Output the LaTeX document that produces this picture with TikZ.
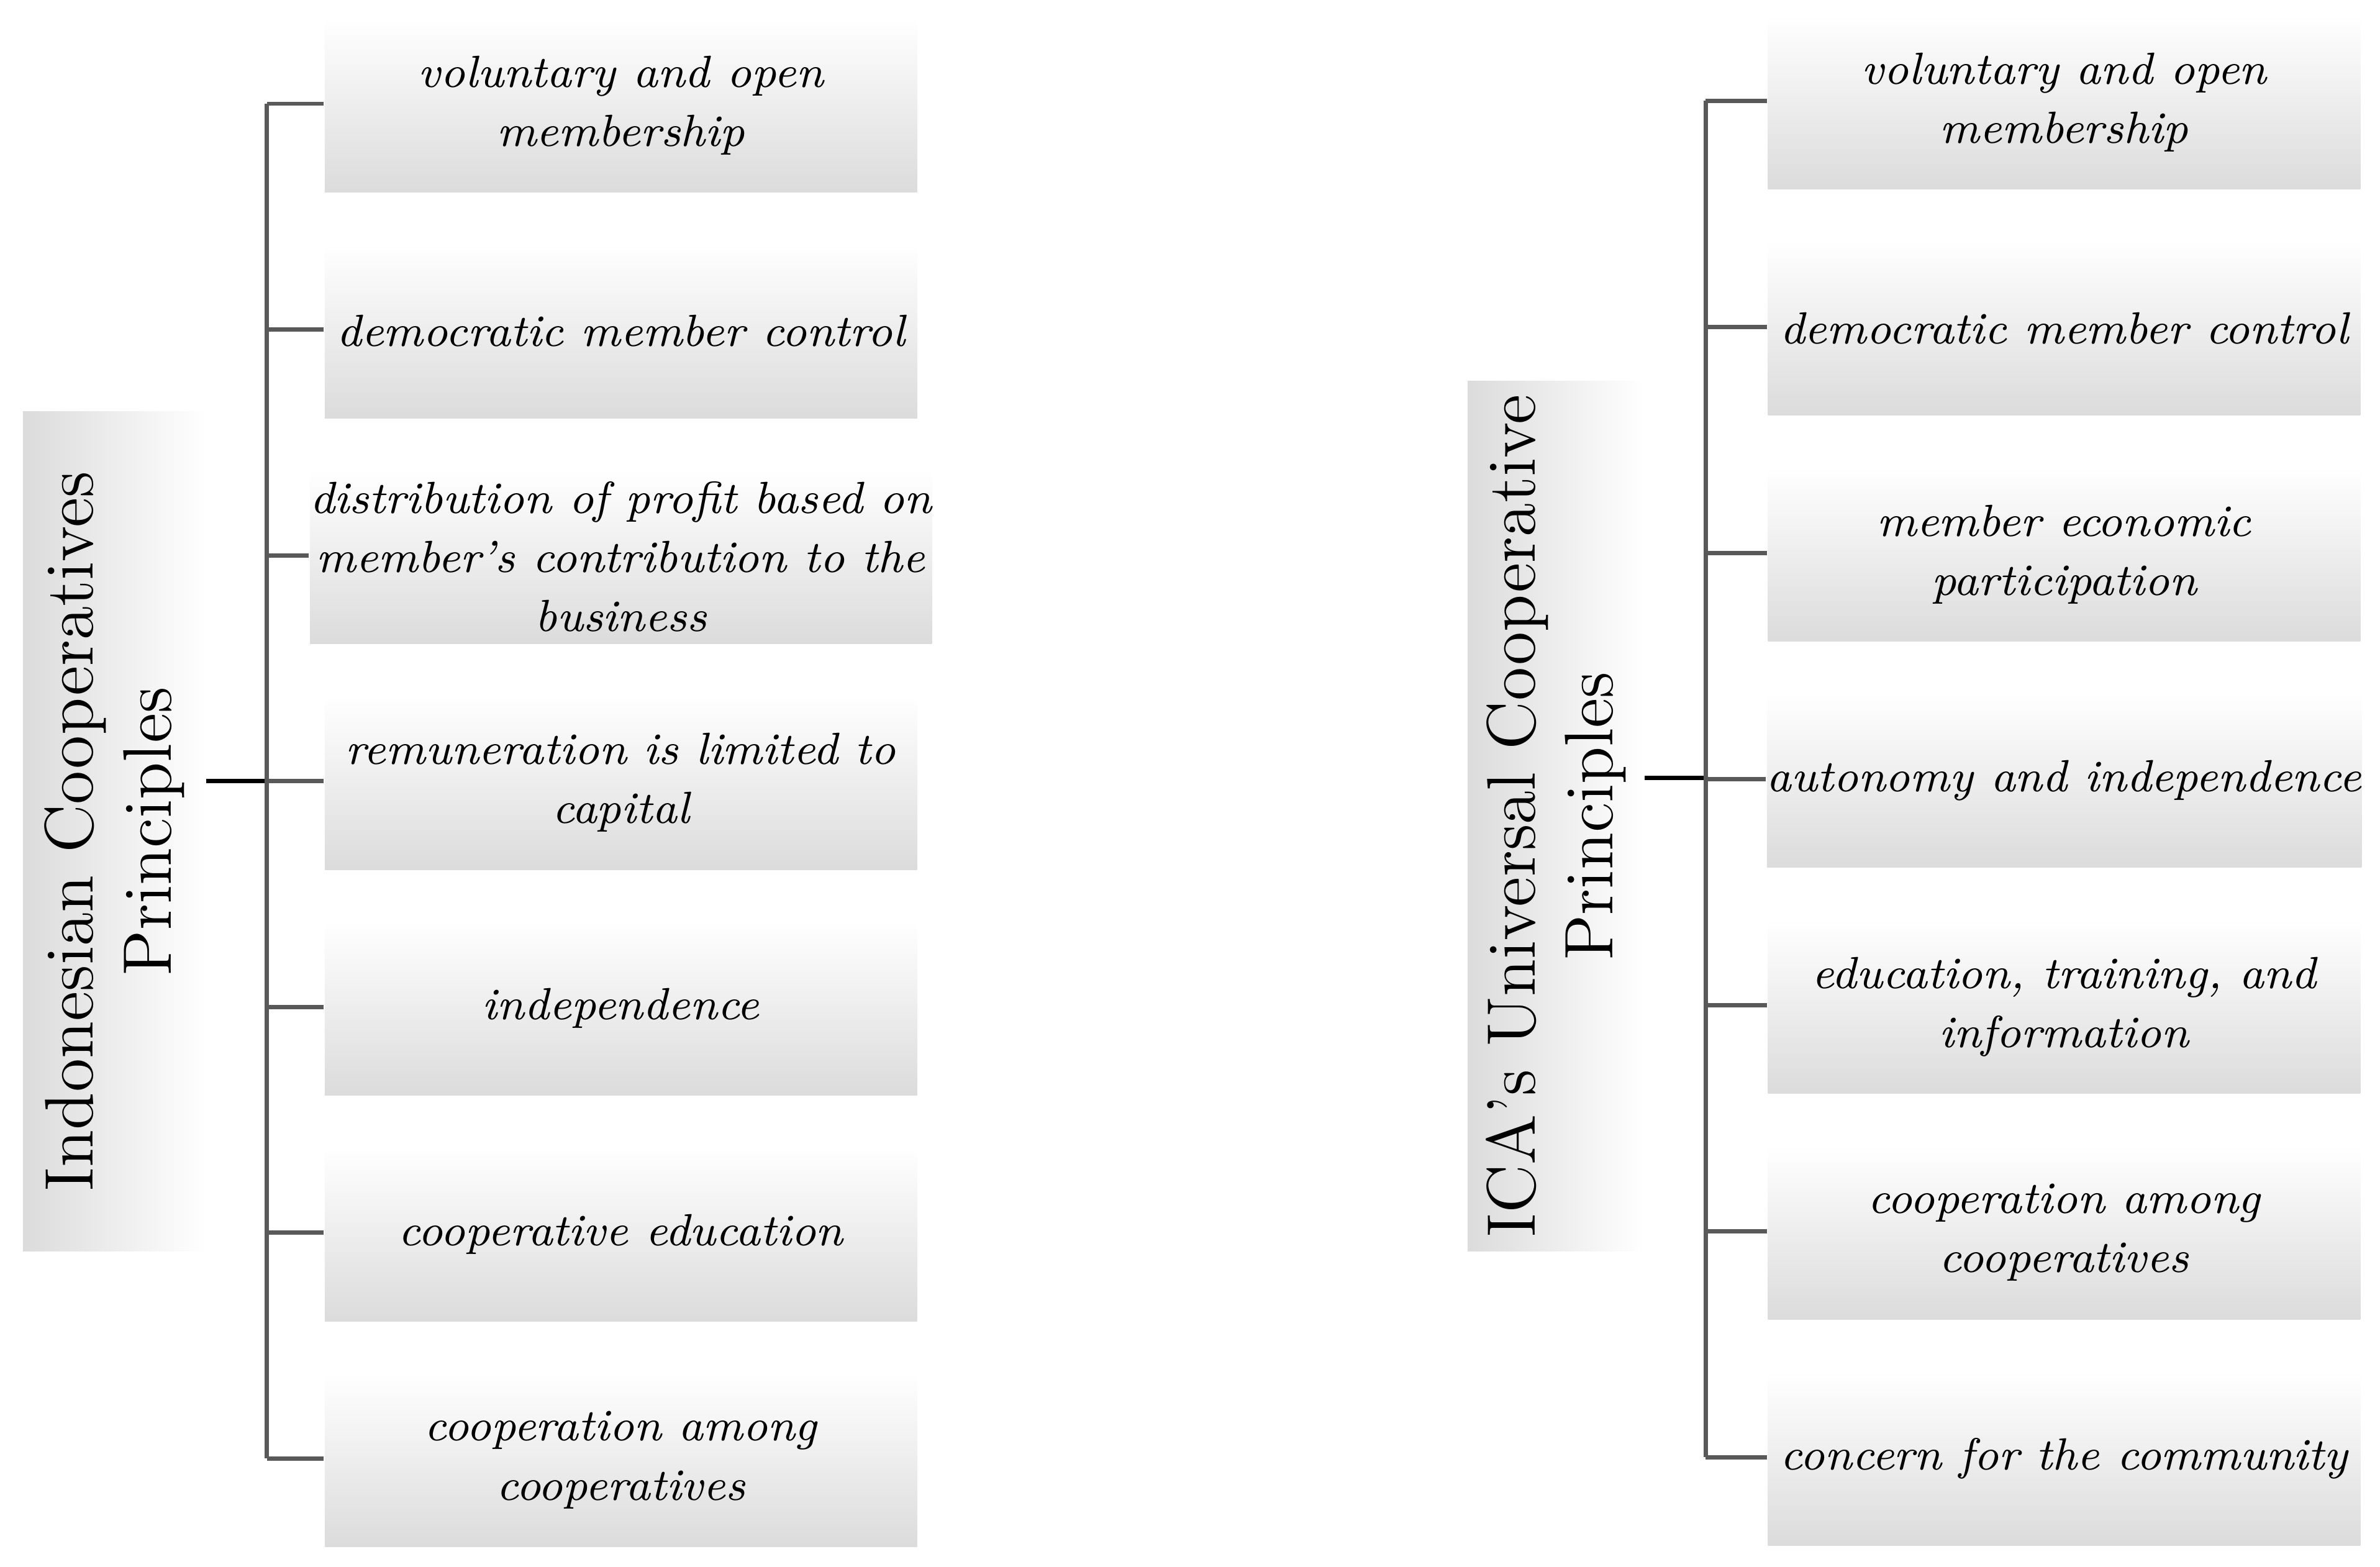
\documentclass[tikz,border=0pt]{standalone}
\usetikzlibrary{calc}
\begin{document}
\begin{tikzpicture}[x=0.01cm,y=-0.01cm,
  item/.style={top color=white, bottom color=gray!28, draw=none, minimum width=3.88cm, minimum height=1.14cm,
    align=center, font=\itshape\fontsize{8.4}{11}\selectfont, inner sep=0pt},
  title/.style={left color=gray!28, right color=white, draw=none, rotate=90, align=center,
    font=\fontsize{12.8}{14.5}\selectfont, inner sep=0pt},
  branch/.style={gray!70!black, thick}]
  \useasboundingbox (0,0) rectangle (1560,1027);

  % left tree
  \node[title, minimum width=5.5cm, minimum height=1.2cm] (lt) at (75,545) {Indonesian Cooperatives\\Principles};
  \coordinate (lspine) at (175,512);
  \draw[thick] (135,512) -- (lspine);
  \foreach \t [count=\i] in {{voluntary and open\\membership},
      {democratic member control},
      {distribution of profit based on\\member's contribution to the\\business},
      {remuneration is limited to\\capital},
      {independence},
      {cooperative education},
      {cooperation among\\cooperatives}}{
    \pgfmathsetmacro\yy{68+148*(\i-1)}
    \node[item] (l\i) at (407,\yy+1) {\t};
    \draw[branch] (175,\yy) -- (l\i.west |- 0,\yy);
  }
  \draw[branch] (175,68) -- (175,956);

  % right tree
  \node[title, minimum width=5.7cm, minimum height=1.16cm] (rt) at (1020,535) {ICA's Universal Cooperative\\Principles};
  \draw[thick] (1078,510) -- (1118,510);
  \foreach \t [count=\i] in {{voluntary and open\\membership},
      {democratic member control},
      {member economic\\participation},
      {autonomy and independence},
      {education, training, and\\information},
      {cooperation among\\cooperatives},
      {concern for the community}}{
    \pgfmathsetmacro\yy{66+148.2*(\i-1)}
    \node[item] (r\i) at (1353,\yy+1) {\t};
    \draw[branch] (1118,\yy) -- (r\i.west |- 0,\yy);
  }
  \draw[branch] (1118,66) -- (1118,955);
\end{tikzpicture}
\end{document}
